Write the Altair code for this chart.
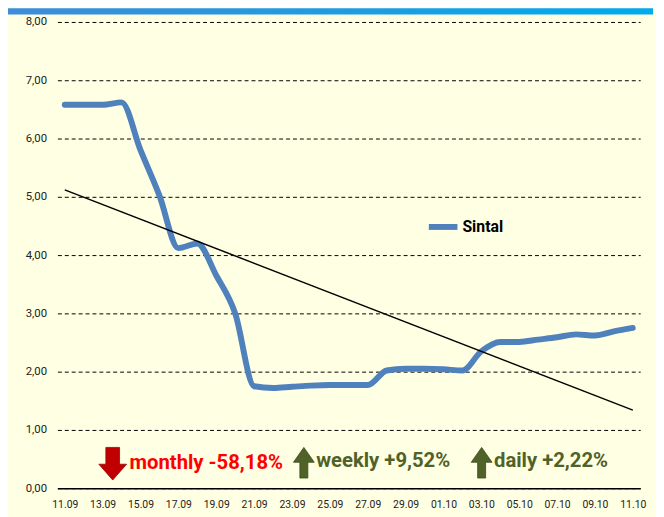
import altair as alt
import pandas as pd

# ---- data ----
dates = ["11.09", "12.09", "13.09", "14.09", "15.09", "16.09", "17.09", "18.09",
         "19.09", "20.09", "21.09", "22.09", "23.09", "24.09", "25.09", "26.09",
         "27.09", "28.09", "29.09", "30.09", "01.10", "02.10", "03.10", "04.10",
         "05.10", "06.10", "07.10", "08.10", "09.10", "10.10", "11.10"]
values = [6.58, 6.58, 6.58, 6.62, 5.80, 5.02, 4.12, 4.20, 3.65, 3.00, 1.75,
          1.72, 1.74, 1.76, 1.77, 1.77, 1.77, 2.02, 2.05, 2.05, 2.04, 2.02,
          2.35, 2.51, 2.51, 2.55, 2.59, 2.64, 2.62, 2.69, 2.75]
tick_labels = ["11.09", "13.09", "15.09", "17.09", "19.09", "21.09", "23.09",
               "25.09", "27.09", "29.09", "01.10", "03.10", "05.10", "07.10",
               "09.10", "11.10"]
trend_dates = ["11.09", "11.10"]
trend_values = [5.12, 1.34]
series_name = "Sintal"
y_ticks = [0, 1, 2, 3, 4, 5, 6, 7, 8]

notes = ["monthly -58,18%", "weekly +9,52%", "daily +2,22%"]
note_colors = ["#FF0000", "#4F6228", "#4F6228"]
arrow_dirs = ["down", "up", "up"]

FONT = "Roboto, Liberation Sans, sans-serif"
BG = "#FFFFE3"

df = pd.DataFrame({"date": dates, "value": values, "series": series_name})
tdf = pd.DataFrame({"date": trend_dates, "value": trend_values})

xenc = alt.X("date:O", sort=dates,
             scale=alt.Scale(domain=dates, padding=0.39),
             axis=alt.Axis(values=tick_labels, labelAngle=0, title=None,
                           ticks=False, tickSize=0, labelPadding=12,
                           domainColor="#000000", domainWidth=1.5,
                           labelFont=FONT, labelFontSize=10.5,
                           labelColor="#222222", grid=False))
yenc = alt.Y("value:Q",
             scale=alt.Scale(domain=[0, 8], nice=False, zero=True),
             axis=alt.Axis(values=y_ticks, title=None, domain=False,
                           ticks=False, tickSize=0, labelPadding=11,
                           labelExpr="replace(format(datum.value, '.2f'), '.', ',')",
                           labelFont=FONT, labelFontSize=11.5,
                           labelColor="#222222", grid=True,
                           gridColor="#000000", gridDash=[4, 3],
                           gridWidth=1))

line = alt.Chart(df).mark_line(interpolate="monotone", strokeWidth=6,
                               strokeCap="round").encode(
    x=xenc, y=yenc,
    color=alt.Color("series:N",
                    scale=alt.Scale(domain=[series_name], range=["#4F81BD"]),
                    legend=alt.Legend(orient="none", legendX=373, legendY=190,
                                      title=None, symbolType="stroke",
                                      symbolSize=841, symbolStrokeWidth=6,
                                      labelFont=FONT, labelFontSize=16,
                                      labelFontWeight="bold",
                                      labelColor="#000000", labelOffset=2,
                                      padding=0))
)

trend = alt.Chart(tdf).mark_line(color="#000000", strokeWidth=1.5).encode(
    x=alt.X("date:O", sort=dates), y="value:Q"
)

# top banner strip (cut off in the reference)
band = alt.Chart(pd.DataFrame({"a": [0]})).mark_rect(
    color=alt.LinearGradient(gradient="linear",
                             stops=[alt.GradientStop(color="#3E8DD9", offset=0),
                                    alt.GradientStop(color="#00AAEE", offset=1)],
                             x1=0, x2=1, y1=0, y2=0)
).encode(x=alt.value(-54), x2=alt.value(603), y=alt.value(-14), y2=alt.value(-7.5))

down_path = "M-0.42,-1 L0.42,-1 L0.42,0.03 L0.85,0.03 L0,1 L-0.85,0.03 L-0.42,0.03 Z"
up_path = "M-0.26,1 L0.26,1 L0.26,-0.03 L0.68,-0.03 L0,-1 L-0.68,-0.03 L-0.26,-0.03 Z"

arrow_pos = [(56, 447.2), (249.5, 446.2), (429.5, 446.2)]
text_pos = [(73, 447), (262, 445), (442, 445)]

layers = [band, line, trend]
for i, txt in enumerate(notes):
    d = pd.DataFrame({"t": [txt]})
    if arrow_dirs[i] == "down":
        arr = alt.Chart(d).mark_point(shape=down_path, size=1089, filled=True,
                                      fill="#C00000", stroke="#A00000",
                                      strokeWidth=0.8, opacity=1)
    else:
        arr = alt.Chart(d).mark_point(shape=up_path, size=961, filled=True,
                                      fill="#4F6228", stroke="#3A4A1C",
                                      strokeWidth=0.8, opacity=1)
    arr = arr.encode(x=alt.value(arrow_pos[i][0]), y=alt.value(arrow_pos[i][1]))
    tx = alt.Chart(d).mark_text(align="left", baseline="middle", font=FONT,
                                fontSize=20.5, fontWeight="bold",
                                color=note_colors[i]).encode(
        x=alt.value(text_pos[i][0]), y=alt.value(text_pos[i][1]), text="t:N")
    layers += [arr, tx]

chart = alt.layer(*layers).properties(
    width=590, height=472,
    autosize=alt.AutoSizeParams(type="none"),
    padding={"left": 50, "top": 11, "right": 16, "bottom": 26},
    background=BG
).configure_view(stroke=None)

chart.save("out.html", embed_options={"renderer": "svg", "actions": False})
